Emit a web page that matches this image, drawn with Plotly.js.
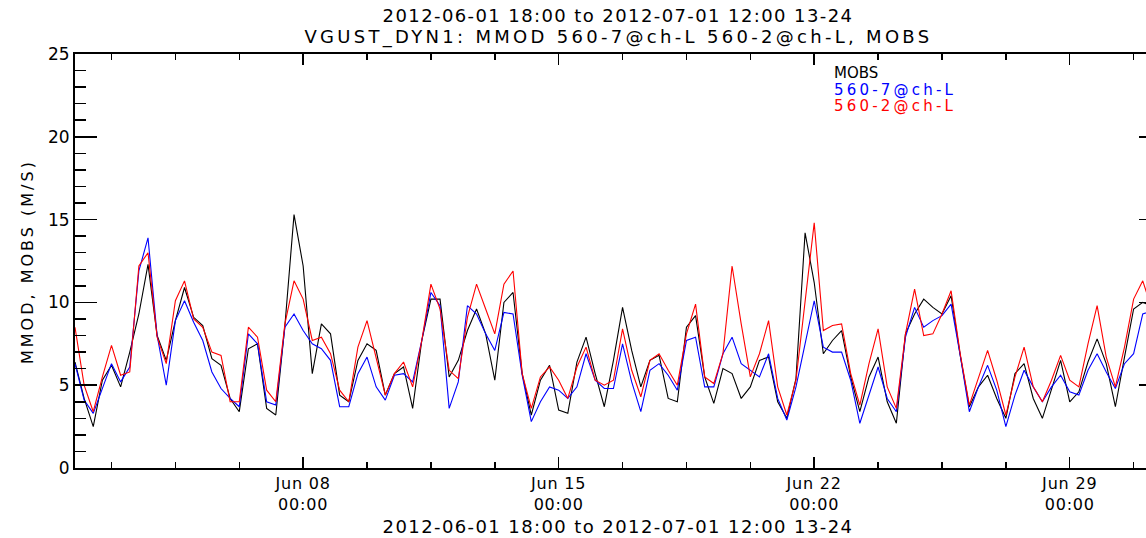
<!DOCTYPE html>
<html>
<head>
<meta charset="utf-8">
<script src="https://cdn.plot.ly/plotly-3.0.1.min.js"></script>
<style>
html,body{margin:0;padding:0;background:#fff;overflow:hidden;}
#chart{width:1175px;height:538px;}
/* widen text to imitate the original vector font */
g.annotation[data-index="1"] text, g.annotation[data-index="2"] text {letter-spacing:3.2px;}
g.annotation[data-index="3"] text, g.annotation[data-index="4"] text {letter-spacing:1.4px;}
g.annotation[data-index="5"] text {letter-spacing:3.3px;}
g.annotation[data-index="6"] text {letter-spacing:3px;}
.xtick text {letter-spacing:0.8px;}
</style>
</head>
<body>
<div id="chart"></div>
<script>
// 6-hourly samples from 2012-06-01 18:00 to 2012-07-01 12:00
const startTime = "2012-06-01T18:00:00Z";
const stepHours = 6;

const mobs = [6.4,4.2,2.5,5.3,6.2,4.9,7.0,9.3,12.3,8.0,
  6.5,8.9,10.9,9.1,8.6,6.6,6.2,4.2,3.4,7.2,
  7.5,3.6,3.2,8.6,15.3,12.2,5.7,8.7,8.1,4.4,
  4.0,6.5,7.5,7.1,4.4,5.7,6.1,3.6,7.7,10.2,
  10.2,5.5,6.5,8.3,9.6,8.1,5.3,10.0,10.6,5.7,
  3.2,5.3,6.2,3.5,3.3,6.4,7.9,5.7,3.7,6.5,
  9.7,7.1,4.9,6.5,6.8,4.2,4.0,8.5,9.2,5.5,
  3.9,6.0,5.7,4.2,4.9,6.5,6.7,4.0,3.0,5.4,
  14.2,11.2,6.9,7.7,8.3,5.5,3.4,5.5,6.7,4.0,
  2.7,8.1,9.3,10.2,9.7,9.3,10.4,6.8,3.7,4.9,
  5.6,4.2,3.0,5.7,6.3,4.2,3.0,4.7,6.5,4.0,
  4.6,6.4,7.8,6.3,3.7,6.7,9.6,10.0,9.8,9.5];

const mod7 = [6.3,4.1,3.3,4.8,6.3,5.2,6.1,11.9,13.9,8.0,
  5.0,8.9,10.1,8.8,7.7,5.8,4.8,4.2,3.7,8.1,
  7.5,4.0,3.8,8.5,9.3,8.3,7.5,7.2,6.5,3.7,
  3.7,5.7,6.7,4.9,4.1,5.6,5.7,5.2,7.7,10.6,
  9.8,3.6,5.2,9.8,9.3,8.1,7.1,9.4,9.3,5.6,
  2.8,4.0,4.9,4.7,4.2,4.9,6.9,5.3,4.8,4.8,
  7.5,5.2,3.4,5.9,6.3,5.6,4.7,7.7,7.9,4.9,
  4.9,6.9,7.9,6.3,5.9,5.5,6.9,4.2,2.9,4.9,
  7.5,10.1,7.3,7.0,7.0,5.3,2.7,4.4,6.1,4.2,
  3.4,7.9,9.7,8.5,8.9,9.2,9.9,6.8,3.4,4.9,
  6.2,4.7,2.5,4.4,5.9,4.9,4.0,4.9,5.6,4.6,
  4.4,5.9,6.9,5.8,4.8,6.3,6.9,9.3,9.5,9.0];

const mod2 = [8.5,5.0,3.4,5.5,7.4,5.6,5.8,12.2,13.0,7.9,
  6.3,10.1,11.3,9.0,8.5,7.0,6.8,4.0,4.0,8.5,
  7.9,4.7,4.0,8.7,11.3,10.2,7.7,7.9,6.9,4.7,
  4.0,7.3,8.9,6.7,4.4,5.7,6.4,4.9,7.7,11.1,
  9.6,5.9,5.4,9.1,11.1,9.6,8.1,11.1,11.9,5.7,
  3.6,5.5,6.1,5.3,4.2,6.1,7.3,5.3,5.0,5.3,
  8.4,5.9,4.3,6.5,6.9,5.9,5.0,8.1,9.9,5.5,
  5.1,6.9,12.2,8.7,5.5,6.9,8.9,4.9,3.2,5.3,
  10.0,14.8,8.3,8.6,8.7,5.7,3.8,6.3,8.4,4.9,
  3.6,8.1,10.8,8.0,8.1,9.3,10.7,6.9,3.8,5.5,
  7.1,5.3,3.2,5.5,7.3,4.9,4.0,5.3,6.8,5.3,
  4.9,7.5,9.8,6.7,4.9,7.3,10.2,11.3,9.6,9.2];

const seriesNames = ["MOBS", "560-7@ch-L", "560-2@ch-L"];
const seriesColors = ["#000000", "#0000ff", "#ff0000"];

const xTickVals = ["2012-06-08 00:00", "2012-06-15 00:00", "2012-06-22 00:00", "2012-06-29 00:00"];
const xTickText = ["Jun 08<br>00:00", "Jun 15<br>00:00", "Jun 22<br>00:00", "Jun 29<br>00:00"];
const xMinorTickVals = ["2012-06-02 18:00","2012-06-04 12:00","2012-06-06 06:00","2012-06-09 18:00",
  "2012-06-11 12:00","2012-06-13 06:00","2012-06-16 18:00","2012-06-18 12:00","2012-06-20 06:00",
  "2012-06-23 18:00","2012-06-25 12:00","2012-06-27 06:00","2012-06-30 18:00"];

const titleLine1 = "2012-06-01 18:00 to 2012-07-01 12:00 13-24";
const titleLine2 = "VGUST_DYN1: MMOD 560-7@ch-L 560-2@ch-L, MOBS";
const yTitle = "MMOD, MOBS (M/S)";

function pad(n){return (n<10?"0":"")+n;}
const t0 = Date.parse(startTime);
const times = mobs.map((_, i) => {
  const d = new Date(t0 + i*stepHours*3600000);
  return d.getUTCFullYear()+"-"+pad(d.getUTCMonth()+1)+"-"+pad(d.getUTCDate())+" "+pad(d.getUTCHours())+":00";
});

const data = [mobs, mod7, mod2].map((vals, k) => ({
  x: times, y: vals, type: "scatter", mode: "lines",
  name: seriesNames[k],
  line: {color: seriesColors[k], width: 1.1},
  hoverinfo: "skip"
}));

const font = "DejaVu Sans, sans-serif";
function ann(text, x, y, size, color, xanchor, extra) {
  return Object.assign({text: text, font: {family: font, size: size, color: color},
    xref: "paper", yref: "paper", x: x, y: y, xanchor: xanchor, yanchor: "middle",
    align: xanchor === "left" ? "left" : "center", showarrow: false}, extra || {});
}

const layout = {
  width: 1175, height: 538,
  margin: {l: 75, r: 14, t: 54, b: 70},
  paper_bgcolor: "#fff", plot_bgcolor: "#fff",
  showlegend: false,
  font: {family: font, color: "#000", size: 16},
  xaxis: {
    type: "date",
    range: [times[0], times[times.length-1]],
    tickmode: "array", tickvals: xTickVals, ticktext: xTickText,
    ticks: "inside", ticklen: 11, tickwidth: 1.5, tickcolor: "#000",
    minor: {tickmode: "array", tickvals: xMinorTickVals, ticks: "inside", ticklen: 6, tickwidth: 1.5, tickcolor: "#000", showgrid: false},
    showline: true, linecolor: "#000", linewidth: 2, mirror: "ticks",
    showgrid: false, zeroline: false,
    tickfont: {family: font, size: 16, color: "#000"},
    automargin: false
  },
  yaxis: {
    range: [0, 25],
    tickmode: "linear", tick0: 0, dtick: 5,
    ticks: "inside", ticklen: 22, tickwidth: 1.5, tickcolor: "#000",
    minor: {dtick: 1, ticks: "inside", ticklen: 11, tickwidth: 1.5, tickcolor: "#000", showgrid: false},
    showline: true, linecolor: "#000", linewidth: 2, mirror: "ticks",
    showgrid: false, zeroline: false,
    tickfont: {family: font, size: 17, color: "#000"},
    automargin: false
  },
  annotations: [
    ann(seriesNames[0], 0.697, 0.954, 15, seriesColors[0], "left"),
    ann(seriesNames[1], 0.697, 0.913, 15, seriesColors[1], "left"),
    ann(seriesNames[2], 0.697, 0.874, 15, seriesColors[2], "left"),
    ann(titleLine1, 0.5, -0.1425, 18, "#000", "center"),
    ann(titleLine1, 0.5, 1.094, 18, "#000", "center"),
    ann(titleLine2, 0.5, 1.041, 18, "#000", "center"),
    ann(yTitle, -0.0442, 0.5, 16, "#000", "center", {textangle: -90})
  ]
};

Plotly.newPlot("chart", data, layout, {staticPlot: true, displayModeBar: false});
</script>
</body>
</html>
